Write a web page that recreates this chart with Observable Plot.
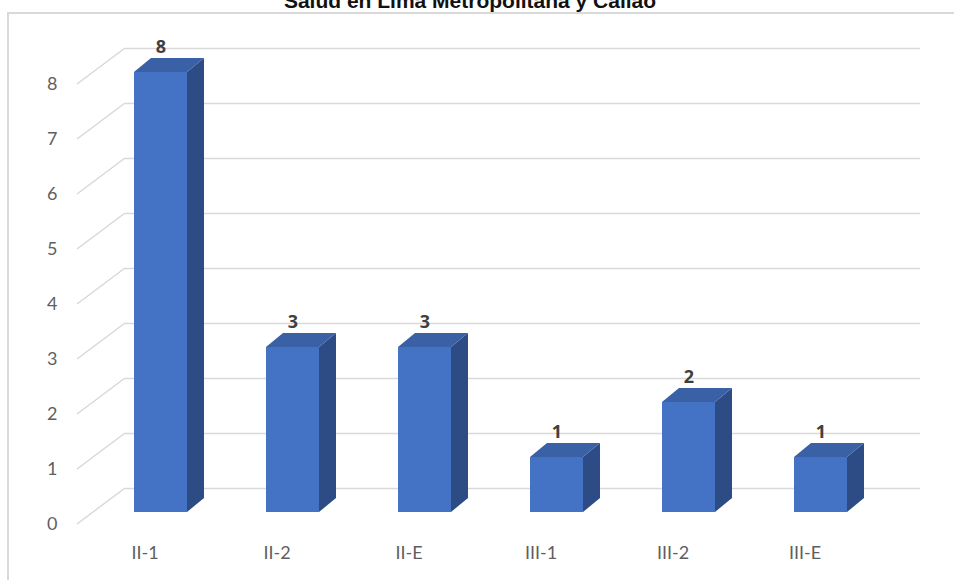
<!DOCTYPE html>
<html>
<head>
<meta charset="utf-8">
<script src="https://cdn.jsdelivr.net/npm/d3@7"></script>
<script src="https://cdn.jsdelivr.net/npm/@observablehq/plot@0.6"></script>
<style>
  html, body { margin: 0; padding: 0; background: white; overflow: hidden; }
  #wrap { position: relative; width: 954px; height: 580px; }
  #title { position: absolute; left: 0; width: 940px; top: -10px; text-align: center;
           font: bold 21px "Liberation Sans", Arial, sans-serif; color: #111; line-height: 21px; z-index: 2; }
  #border { position: absolute; left: 7px; top: 12px; width: 960px; height: 600px;
            border-top: 2px solid #d9d9d9; border-left: 2px solid #d9d9d9; z-index: 1; pointer-events: none; }
</style>
</head>
<body>
<div id="wrap">
  <div id="title">Salud en Lima Metropolitana y Callao</div>
  <div id="border"></div>
  <div id="chart"></div>
</div>
<script>
const categories = ["II-1", "II-2", "II-E", "III-1", "III-2", "III-E"];
const values = [8, 3, 3, 1, 2, 1];
const yTicks = [0, 1, 2, 3, 4, 5, 6, 7, 8];

const data = categories.map((c, i) => ({cat: c, value: values[i]}));

const FRONT = "#4472C4", TOP = "#3A60A6", SIDE = "#2D4C86", GRID = "#d9d9d9";
const BAR_DX = 16, BAR_DY = -12;   // bar front plane offset from axis plane
const DEPTH_DX = 17, DEPTH_DY = -14; // bar depth
const WALL_DX = 48, WALL_DY = -36;   // back wall offset
const NS = "http://www.w3.org/2000/svg";

function el(tag, attrs) {
  const e = document.createElementNS(NS, tag);
  for (const k in attrs) e.setAttribute(k, attrs[k]);
  return e;
}

// diagonal floor/wall gridline connectors on the left side
function wallDiagonals(index, scales, values_, dim) {
  const {y} = scales;
  const g = el("g", {stroke: GRID, "stroke-width": 1.5, fill: "none"});
  const x0 = dim.marginLeft;
  for (const t of yTicks) {
    g.appendChild(el("path", {d: `M${x0},${y(t)}L${x0 + WALL_DX},${y(t) + WALL_DY}`}));
  }
  return g;
}

// side and top faces of each 3D bar
function barFaces(index, scales) {
  const {x, y} = scales;
  const bw = x.bandwidth();
  const g = el("g", {});
  data.forEach(d => {
    const x1 = x(d.cat) + BAR_DX, x2 = x1 + bw;
    const yt = y(d.value) + BAR_DY, yb = y(0) + BAR_DY;
    g.appendChild(el("path", {fill: SIDE,
      d: `M${x2},${yt}L${x2 + DEPTH_DX},${yt + DEPTH_DY}L${x2 + DEPTH_DX},${yb + DEPTH_DY}L${x2},${yb}Z`}));
    g.appendChild(el("path", {fill: TOP,
      d: `M${x1},${yt}L${x1 + DEPTH_DX},${yt + DEPTH_DY}L${x2 + DEPTH_DX},${yt + DEPTH_DY}L${x2},${yt}Z`}));
  });
  return g;
}

const chart = Plot.plot({
  width: 954,
  height: 580,
  marginLeft: 77,
  marginRight: 82,
  marginTop: 84,
  marginBottom: 56,
  style: {fontFamily: "Lato, 'Open Sans', sans-serif", fontSize: "18px", color: "#5f5f5f", background: "transparent"},
  x: {domain: categories, paddingInner: 0.6, paddingOuter: 0.3, label: null, tickSize: 0, tickPadding: 22},
  y: {domain: [0, 8], ticks: yTicks, tickFormat: d3.format("d"), label: null, tickSize: 0, tickPadding: 20},
  marks: [
    Plot.ruleY(yTicks, {stroke: GRID, strokeWidth: 1.5, dx: WALL_DX, dy: WALL_DY}),
    wallDiagonals,
    Plot.barY(data, {x: "cat", y: "value", fill: FRONT, dx: BAR_DX, dy: BAR_DY}),
    barFaces,
    Plot.text(data, {x: "cat", y: "value", text: d => String(d.value), dx: BAR_DX, dy: BAR_DY - 25,
      fill: "#404040", fontWeight: "bold", fontSize: 18, fontFamily: "'Open Sans', sans-serif"})
  ]
});
document.getElementById("chart").appendChild(chart);
</script>
</body>
</html>
